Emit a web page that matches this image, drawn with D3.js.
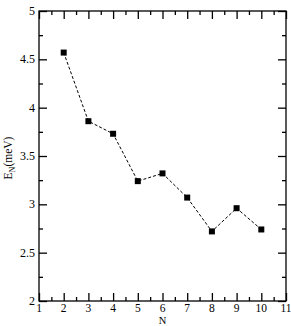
<!DOCTYPE html>
<html>
<head>
<meta charset="utf-8">
<script src="https://cdn.jsdelivr.net/npm/d3@7"></script>
<style>
  body { margin: 0; background: #fff; }
  text { font-family: "Liberation Serif", "Times New Roman", serif; }
</style>
</head>
<body>
<svg id="chart" width="291" height="326"></svg>
<script>
// data
const nValues = [2, 3, 4, 5, 6, 7, 8, 9, 10];
const energies = [4.57, 3.86, 3.73, 3.24, 3.32, 3.07, 2.72, 2.96, 2.74];
const xTicks = [1, 2, 3, 4, 5, 6, 7, 8, 9, 10, 11];
const yTicks = [2, 2.5, 3, 3.5, 4, 4.5, 5];
const xMinor = [1.5, 2.5, 3.5, 4.5, 5.5, 6.5, 7.5, 8.5, 9.5, 10.5];
const yMinor = [2.25, 2.75, 3.25, 3.75, 4.25, 4.75];

const svg = d3.select("#chart");
const pLeft = 39, pRight = 286, pTop = 11, pBottom = 301;

const x = d3.scaleLinear().domain([1, 11]).range([pLeft, pRight]);
const y = d3.scaleLinear().domain([2, 5]).range([pBottom, pTop]);

// tick marks on all four sides, pointing in
function addAxis(axis, tx, ty) {
  const a = svg.append("g").attr("transform", `translate(${tx},${ty})`).call(axis);
  a.select(".domain").remove();
  a.selectAll("line").attr("stroke", "#000").attr("stroke-width", 1.3);
  return a;
}
addAxis(d3.axisBottom(x).tickValues(xTicks).tickSize(-8).tickFormat(""), 0, pBottom);
addAxis(d3.axisBottom(x).tickValues(xMinor).tickSize(-4).tickFormat(""), 0, pBottom);
addAxis(d3.axisTop(x).tickValues(xTicks).tickSize(-8).tickFormat(""), 0, pTop);
addAxis(d3.axisTop(x).tickValues(xMinor).tickSize(-4).tickFormat(""), 0, pTop);
addAxis(d3.axisLeft(y).tickValues(yTicks).tickSize(-8).tickFormat(""), pLeft, 0);
addAxis(d3.axisLeft(y).tickValues(yMinor).tickSize(-4).tickFormat(""), pLeft, 0);
addAxis(d3.axisRight(y).tickValues(yTicks).tickSize(-8).tickFormat(""), pRight, 0);
addAxis(d3.axisRight(y).tickValues(yMinor).tickSize(-4).tickFormat(""), pRight, 0);

svg.append("rect")
  .attr("x", pLeft).attr("y", pTop)
  .attr("width", pRight - pLeft).attr("height", pBottom - pTop)
  .attr("fill", "none").attr("stroke", "#000").attr("stroke-width", 1.3);

// tick labels
svg.selectAll(".xl").data(xTicks).enter().append("text")
  .attr("x", d => x(d)).attr("y", 312)
  .attr("text-anchor", "middle").attr("font-size", 11.5)
  .text(d => d);
svg.selectAll(".yl").data(yTicks).enter().append("text")
  .attr("x", pLeft - 4).attr("y", d => y(d) + 4)
  .attr("text-anchor", "end").attr("font-size", 12)
  .text(d => d);

// axis titles
svg.append("text").attr("x", x(6)).attr("y", 324)
  .attr("text-anchor", "middle").attr("font-size", 10.5).text("N");
const yl = svg.append("text")
  .attr("transform", `translate(12,158) rotate(-90)`)
  .attr("text-anchor", "middle").attr("font-size", 11.5);
yl.append("tspan").text("E");
yl.append("tspan").attr("font-size", 8).attr("dy", 3).text("N");
yl.append("tspan").attr("dy", -3).text("(meV)");

// dashed line + squares
const line = d3.line().x((d, i) => x(nValues[i])).y(d => y(d));
svg.append("path").datum(energies)
  .attr("d", line).attr("fill", "none")
  .attr("stroke", "#000").attr("stroke-width", 1)
  .attr("stroke-dasharray", "3,2");

svg.selectAll(".pt").data(energies).enter().append("rect")
  .attr("x", (d, i) => x(nValues[i]) - 3)
  .attr("y", d => y(d) - 3)
  .attr("width", 6).attr("height", 6)
  .attr("fill", "#000");
</script>
</body>
</html>
